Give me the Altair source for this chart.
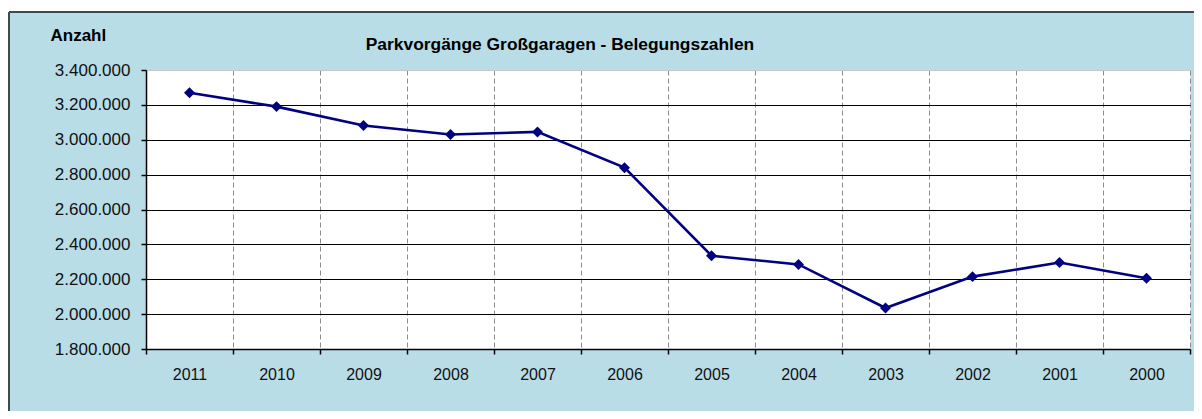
import altair as alt
import pandas as pd

# ---- data ----
years = ["2011", "2010", "2009", "2008", "2007", "2006",
         "2005", "2004", "2003", "2002", "2001", "2000"]
values = [3270000, 3190000, 3082000, 3030000, 3045000, 2840000,
          2335000, 2285000, 2035000, 2215000, 2296000, 2206000]
y_ticks = [1800000, 2000000, 2200000, 2400000, 2600000, 2800000,
           3000000, 3200000, 3400000]
chart_title = "Parkvorgänge Großgaragen - Belegungszahlen"
y_title = "Anzahl"

df = pd.DataFrame({"Jahr": years, "Anzahl": values})

W, H = 1044, 279
BG = "#B9DDE7"
FONT = "Liberation Sans"

x_enc = alt.X(
    "Jahr:N",
    sort=years,
    bandPosition=0.5,
    scale=alt.Scale(type="band", paddingInner=0, paddingOuter=0),
    axis=alt.Axis(
        title=None,
        tickBand="extent",
        grid=True,
        gridColor="#8C8C8C",
        gridDash=[5, 3],
        gridWidth=1,
        domainColor="#000000",
        domainWidth=1.5,
        tickColor="#000000",
        tickSize=5,
        tickWidth=1.5,
        labelFont=FONT,
        labelFontSize=16,
        labelColor="#111111",
        labelPadding=12,
        labelAngle=0,
    ),
)

y_enc = alt.Y(
    "Anzahl:Q",
    scale=alt.Scale(domain=[1800000, 3400000], nice=False, zero=False),
    axis=alt.Axis(
        values=y_ticks,
        labelExpr="replace(format(datum.value, ','), /,/g, '.')",
        grid=True,
        gridColor=alt.condition("datum.value == 3400000",
                                alt.value("#C8C8C8"), alt.value("#000000")),
        gridWidth=1.2,
        domainColor="#000000",
        domainWidth=1.5,
        tickColor="#000000",
        tickSize=5,
        tickWidth=1.5,
        labelFont=FONT,
        labelFontSize=17,
        labelColor="#111111",
        labelPadding=11,
        title=y_title,
        titleFont=FONT,
        titleFontSize=17,
        titleFontWeight="bold",
        titleColor="#000000",
        titleAngle=0,
        titleAlign="left",
        titleBaseline="alphabetic",
        titleX=-96,
        titleY=-30,
    ),
)

base = alt.Chart(df)

line = base.mark_line(color="#000080", strokeWidth=2.6).encode(x=x_enc, y=y_enc)
points = base.mark_point(shape="diamond", filled=True, size=120,
                         color="#000080", opacity=1).encode(x=x_enc, y=y_enc)

one = alt.Data(values=[{"t": chart_title}])

# white page strips above / left of the outer frame, and the frame border
strip_top = alt.Chart(one).mark_rect(color="white").encode(
    x=alt.value(-146), x2=alt.value(1100), y=alt.value(-70), y2=alt.value(-58))
strip_left = alt.Chart(one).mark_rect(color="white").encode(
    x=alt.value(-146), x2=alt.value(-137), y=alt.value(-70), y2=alt.value(420))
border_top = alt.Chart(one).mark_rule(color="#3E4A50", strokeWidth=2).encode(
    x=alt.value(-137), x2=alt.value(1100), y=alt.value(-58))
border_left = alt.Chart(one).mark_rule(color="#3E4A50", strokeWidth=2).encode(
    x=alt.value(-137), y=alt.value(-58), y2=alt.value(420))

title_txt = alt.Chart(one).mark_text(
    font=FONT, fontSize=17.4, fontWeight="bold", color="#000000",
    align="center", baseline="alphabetic"
).encode(x=alt.value(414), y=alt.value(-20), text="t:N")

chart = alt.layer(
    strip_top, strip_left, border_top, border_left, title_txt, line, points
).properties(
    width=W, height=H,
    autosize=alt.AutoSizeParams(type="none"),
    padding={"left": 138, "top": 62, "right": 4, "bottom": 62},
    background=BG,
).configure_view(fill="white", stroke="transparent")

chart.save("out.html", embed_options={"renderer": "svg", "actions": False})
